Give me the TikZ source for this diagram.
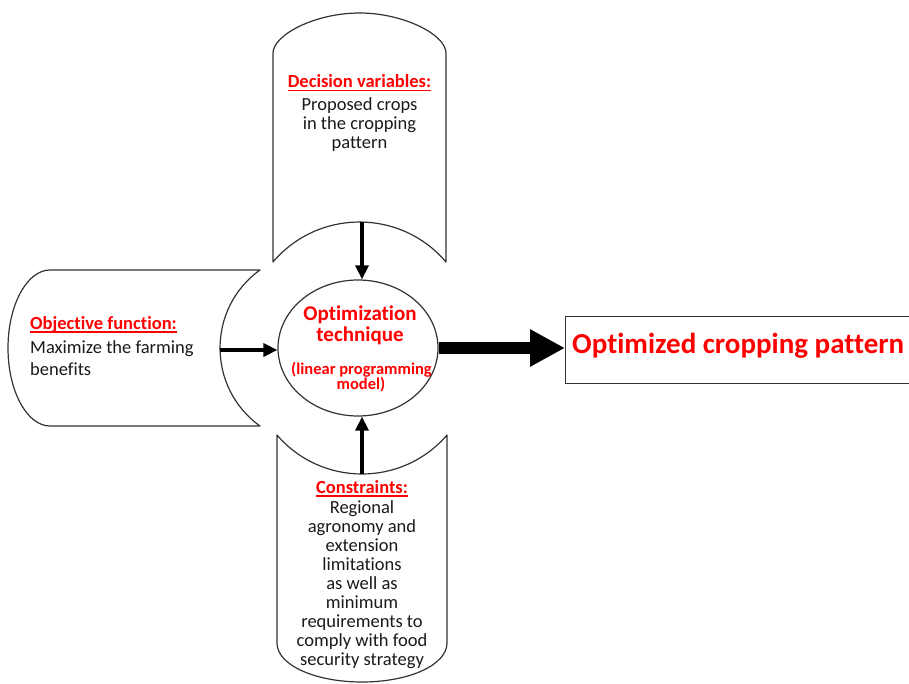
\documentclass[tikz,border=0pt]{standalone}
\usepackage{fontspec}
\setmainfont{Carlito}[Ligatures={NoCommon}]
\usetikzlibrary{shapes.geometric,arrows.meta}
\definecolor{hdred}{HTML}{FF0000}
\definecolor{bodyk}{HTML}{1A1A1A}
\definecolor{edgec}{HTML}{333333}
\newcommand{\hdul}[1]{\setbox0\hbox{#1}\rlap{\rule[-3.5pt]{\wd0}{1.5pt}}\box0}
\begin{document}
\begin{tikzpicture}[x=1pt,y=-1pt,
  shp/.style={draw=edgec, line width=1.2pt, fill=white, line join=round},
  hd/.style={anchor=base, inner sep=0pt, text=hdred, font=\fontsize{18.5}{19}\selectfont\bfseries},
  bd/.style={anchor=base, inner sep=0pt, text=bodyk, font=\fontsize{18.5}{19}\selectfont},
  ettl/.style={anchor=base, inner sep=0pt, text=hdred, font=\fontsize{21}{22}\selectfont\bfseries},
  esub/.style={anchor=base, inner sep=0pt, text=hdred, font=\fontsize{16.5}{15}\selectfont\bfseries},
  arr/.style={line width=3.4pt, -{Triangle[length=14pt,width=13pt]}},
  bigarr/.style={line width=12pt, -{Triangle[length=35pt,width=35pt]}}
]
\useasboundingbox (0,0) rectangle (909,684);
\clip (0,0) rectangle (909,684);

% top scroll shape (decision variables)
\path[shp] (273,262) -- (273,53) .. controls (273,35) and (315,13) .. (359.5,13)
  .. controls (404,13) and (446,35) .. (446,53) -- (446,262)
  .. controls (400.7,208.7) and (318.3,208.7) .. (273,262) -- cycle;
% left scroll shape (objective function)
\path[shp] (260,270) -- (50,270) .. controls (27,270) and (8,305) .. (8,348)
  .. controls (8,391) and (27,426) .. (50,426) -- (260,426)
  .. controls (206.7,387.7) and (206.7,308.3) .. (260,270) -- cycle;
% bottom scroll shape (constraints)
\path[shp] (277,435) .. controls (321.7,487) and (402.3,487) .. (447,435)
  -- (447,643) .. controls (447,665) and (409,682) .. (362,682)
  .. controls (315,682) and (277,665) .. (277,643) -- cycle;

\coordinate (dvtip) at (362,222.2);
\coordinate (oftip) at (220,350);
\coordinate (cstip) at (362,474);

% central ellipse
\node[draw=edgec, line width=1.2pt, fill=white, ellipse, minimum width=160pt,
  minimum height=136pt, inner sep=0pt] (ell) at (358,348) {};

% output box
\node[draw=edgec, line width=1.2pt, fill=white, minimum width=350pt, minimum height=67pt,
  inner sep=0pt, anchor=north west] (out) at (565,316) {};

% connectors
\draw[arr] (dvtip) -- (dvtip |- ell.north);
\draw[arr] (oftip) -- (oftip -| ell.west);
\draw[arr] (cstip) -- (cstip |- ell.south);
\draw[bigarr] (ell.east) -- (ell.east -| out.west);

% texts
\node[hd] (dvhead) at (359.5,88) {\hdul{Decision variables:}};
\node[bd] (dvbody) at (359.5,111) {\parbox[t]{170pt}{\centering Proposed crops\\ in the cropping\\ pattern}};

\node[hd, anchor=base west] (ofhead) at (30,329) {\hdul{Objective function:}};
\node[bd, anchor=base west, font=\fontsize{18.5}{22.5}\selectfont] (ofbody) at (30,353)
  {\parbox[t]{200pt}{\raggedright Maximize the farming\\ benefits}};

\node[hd] (cshead) at (362,493) {\hdul{Constraints:}};
\node[bd] (csbody) at (362,513) {\parbox[t]{170pt}{\centering Regional\\ agronomy and\\ extension\\ limitations\\ as well as\\ minimum\\ requirements to\\ comply with food\\ security strategy}};

\node[ettl] (opt1) at (360,320) {Optimization};
\node[ettl] (opt2) at (360,341) {technique};
\node[esub] (lp1) at (361.5,374) {(linear programming};
\node[esub] (lp2) at (361,389) {model)};

\node[anchor=base west, inner sep=0pt, text=hdred, font=\fontsize{29}{32}\selectfont\bfseries]
  (outtxt) at (572,353) {Optimized cropping pattern};
\end{tikzpicture}
\end{document}
